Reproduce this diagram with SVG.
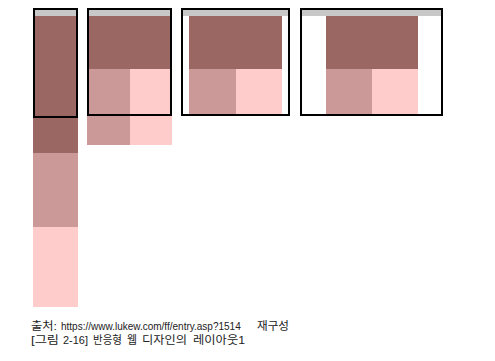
<svg xmlns="http://www.w3.org/2000/svg" width="495" height="361" viewBox="0 0 495 361">
<style>
.bar{fill:#c8c8c8}
.dk{fill:#9a6762}
.md{fill:#cc9999}
.lt{fill:#ffcccc}
.frame{fill:none;stroke:#000;stroke-width:2}
.t{font-family:"Liberation Sans","Noto Sans CJK KR",sans-serif;font-size:11.5px;fill:#222}
.u{font-size:10px}
</style>
<rect width="495" height="361" fill="#fff"/>
<g id="mobile">
<rect class="bar" x="33" y="8" width="45" height="8"/>
<rect class="dk" x="33" y="16" width="45" height="137"/>
<rect class="md" x="33" y="153" width="45" height="74"/>
<rect class="lt" x="33" y="227" width="45" height="80"/>
<rect class="frame" x="34" y="9" width="43" height="108"/>
</g>
<g id="tablet">
<rect class="bar" x="87" y="8" width="85" height="8"/>
<rect class="dk" x="87" y="16" width="85" height="53"/>
<rect class="md" x="87" y="69" width="43" height="76"/>
<rect class="lt" x="130" y="69" width="42" height="76"/>
<rect class="frame" x="88" y="9" width="83" height="106"/>
</g>
<g id="laptop">
<rect class="bar" x="181" y="8" width="109" height="8"/>
<rect class="dk" x="189" y="16" width="93" height="53"/>
<rect class="md" x="189" y="69" width="47" height="47"/>
<rect class="lt" x="236" y="69" width="46" height="47"/>
<rect class="frame" x="182" y="9" width="107" height="106"/>
</g>
<g id="desktop">
<rect class="bar" x="300" y="8" width="143" height="8"/>
<rect class="dk" x="326" y="16" width="92" height="53"/>
<rect class="md" x="326" y="69" width="46" height="47"/>
<rect class="lt" x="372" y="69" width="46" height="47"/>
<rect class="frame" x="301" y="9" width="141" height="106"/>
</g>
<g id="caption">
<text class="t" x="31" y="330" textLength="26" lengthAdjust="spacingAndGlyphs">출처:</text>
<text class="t u" x="61" y="330">https://www.lukew.com/ff/entry.asp?1514</text>
<text class="t" x="257" y="330" textLength="32" lengthAdjust="spacingAndGlyphs">재구성</text>
<text class="t" x="31" y="344" textLength="28" lengthAdjust="spacingAndGlyphs">[그림</text>
<text class="t" x="63" y="344" textLength="25" lengthAdjust="spacingAndGlyphs">2-16]</text>
<text class="t" x="93" y="344" textLength="29" lengthAdjust="spacingAndGlyphs">반응형</text>
<text class="t" x="127" y="344" textLength="10" lengthAdjust="spacingAndGlyphs">웹</text>
<text class="t" x="142" y="344" textLength="45" lengthAdjust="spacingAndGlyphs">디자인의</text>
<text class="t" x="193" y="344" textLength="52" lengthAdjust="spacingAndGlyphs">레이아웃1</text>
</g>
</svg>
